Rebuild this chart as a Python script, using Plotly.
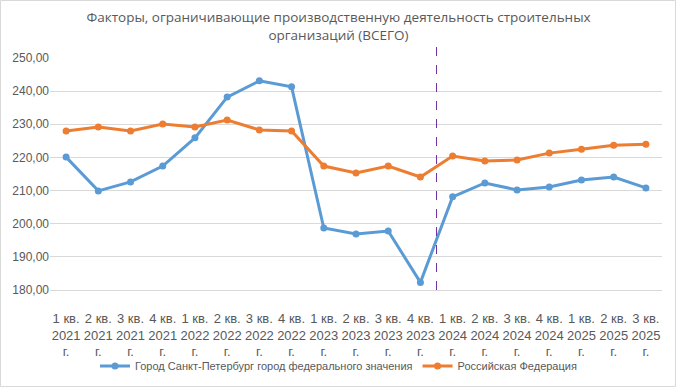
import plotly.graph_objects as go

categories = ["1 кв.<br>2021<br>г.", "2 кв.<br>2021<br>г.", "3 кв.<br>2021<br>г.", "4 кв.<br>2021<br>г.",
              "1 кв.<br>2022<br>г.", "2 кв.<br>2022<br>г.", "3 кв.<br>2022<br>г.", "4 кв.<br>2022<br>г.",
              "1 кв.<br>2023<br>г.", "2 кв.<br>2023<br>г.", "3 кв.<br>2023<br>г.", "4 кв.<br>2023<br>г.",
              "1 кв.<br>2024<br>г.", "2 кв.<br>2024<br>г.", "3 кв.<br>2024<br>г.", "4 кв.<br>2024<br>г.",
              "1 кв.<br>2025<br>г.", "2 кв.<br>2025<br>г.", "3 кв.<br>2025<br>г."]
spb = [220.1, 209.9, 212.6, 217.4, 225.9, 238.2, 243.1, 241.3, 198.7, 196.9, 197.8, 182.3,
       208.1, 212.3, 210.2, 211.1, 213.2, 214.1, 210.8]
rf = [228.0, 229.2, 228.0, 230.1, 229.2, 231.3, 228.3, 228.0, 217.4, 215.3, 217.4, 214.1,
      220.4, 218.9, 219.2, 221.3, 222.5, 223.7, 224.0]
series_names = ["Город Санкт-Петербург город федерального значения", "Российская Федерация"]
y_ticks = [180, 190, 200, 210, 220, 230, 240, 250]
divider_pos = 11.5

xs = list(range(len(categories)))
W, H = 677, 388
L, R, T, B = 50, 15, 58, 98
pw, ph = W - L - R, H - T - B

fig = go.Figure()
fig.add_trace(go.Scatter(x=xs, y=spb, name=series_names[0], mode="lines+markers",
                         line=dict(color="#5B9BD5", width=3), marker=dict(size=7, color="#5B9BD5")))
fig.add_trace(go.Scatter(x=xs, y=rf, name=series_names[1], mode="lines+markers",
                         line=dict(color="#ED7D31", width=3), marker=dict(size=7, color="#ED7D31")))

fig.add_shape(type="line", xref="x", yref="paper", x0=divider_pos, x1=divider_pos, y0=0, y1=1 + 20 / ph,
              line=dict(color="#7030A0", width=1, dash="dash"))
fig.add_shape(type="rect", xref="paper", yref="paper", x0=-(L - 0.5) / pw, x1=1 + (R - 1.5) / pw,
              y0=-(B - 1.5) / ph, y1=1 + (T - 0.5) / ph, line=dict(color="#D9D9D9", width=1), layer="below")

fig.update_layout(
    width=W, height=H,
    margin=dict(l=L, r=R, t=T, b=B, autoexpand=False),
    paper_bgcolor="white", plot_bgcolor="white",
    separators=", ",
    font=dict(family="Liberation Sans, sans-serif", color="#595959", size=12),
    title=dict(text="Факторы, ограничивающие производственную деятельность строительных<br>организаций (ВСЕГО)",
               x=0.5, xref="container", xanchor="center", y=1 - 22 / H, yanchor="middle",
               font=dict(size=13.5, color="#595959", family="Open Sans, sans-serif")),
    xaxis=dict(tickvals=xs, ticktext=categories, range=[-0.5, len(categories) - 0.5], automargin=False,
               showgrid=False, showline=True, linecolor="#D9D9D9", ticks="", zeroline=False,
               tickfont=dict(size=13, color="#595959"), tickangle=0, ticklabelstandoff=16),
    yaxis=dict(range=[180, 250], tickvals=y_ticks, tickformat=".2f", showgrid=True, gridcolor="#D9D9D9",
               automargin=False, showline=False, zeroline=False, ticks="",
               tickfont=dict(size=12, color="#595959")),
    legend=dict(orientation="h", xref="container", yref="container", x=0.5, xanchor="center",
                y=(H - 366) / H, yanchor="middle", font=dict(size=11, color="#595959"),
                itemwidth=30, bgcolor="rgba(0,0,0,0)"),
    showlegend=True,
)
fig.write_html("out.html", config={"displayModeBar": False},
               post_script="document.body.style.margin='0';document.body.style.overflow='hidden';")
